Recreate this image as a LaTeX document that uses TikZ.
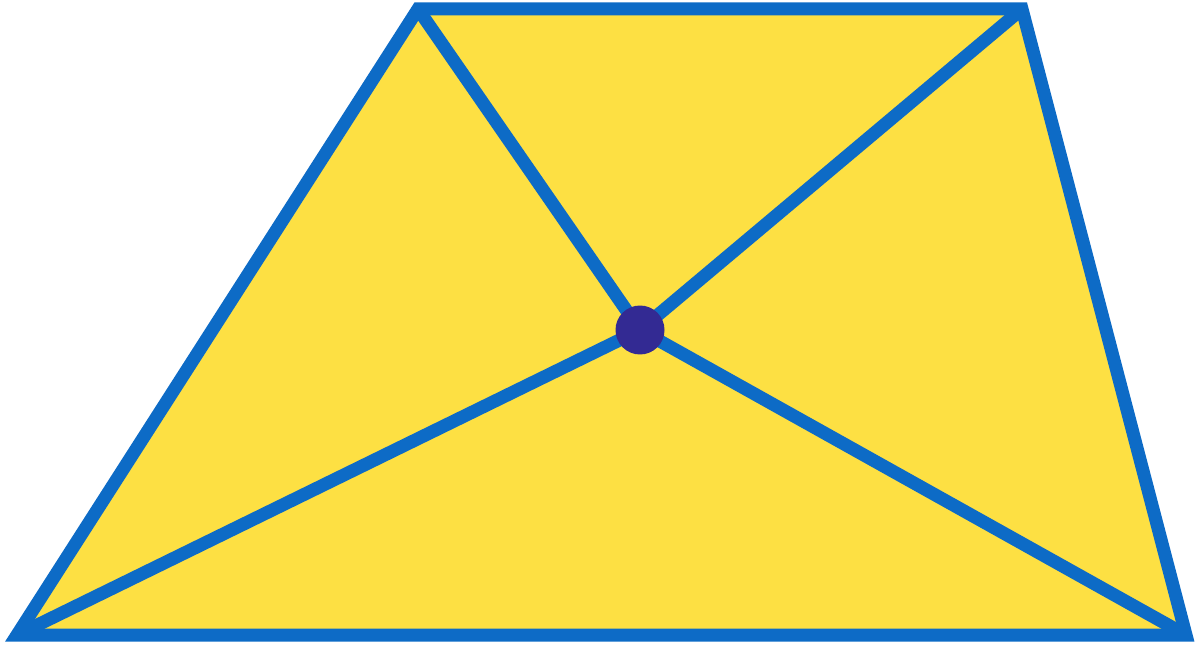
\documentclass[tikz,border=0pt]{standalone}
\usepackage{tikz}
\definecolor{trapfill}{HTML}{FDE043}
\definecolor{edgeblue}{HTML}{0D6BC6}
\definecolor{dotpurple}{HTML}{332A93}

\begin{document}
\begin{tikzpicture}[
  x=0.02cm, y=-0.02cm,
  edge/.style={draw=edgeblue, line width=0.26cm, line join=miter},
  dot/.style={circle, fill=dotpurple, minimum size=0.98cm, inner sep=0pt}
]
\useasboundingbox (0,0) rectangle (1200,645);

\coordinate (a) at (17,635);
\coordinate (b) at (418,9);
\coordinate (c) at (1022,9);
\coordinate (d) at (1186,635);
\coordinate (o) at (640,330);

\fill[trapfill] (a) -- (b) -- (c) -- (d) -- cycle;

\draw[edge] (b) -- (o);
\draw[edge] (c) -- (o);
\draw[edge] (a) -- (o);
\draw[edge] (d) -- (o);
\draw[edge] (a) -- (b) -- (c) -- (d) -- cycle;

\node[dot] (m) at (o) {};
\end{tikzpicture}
\end{document}
